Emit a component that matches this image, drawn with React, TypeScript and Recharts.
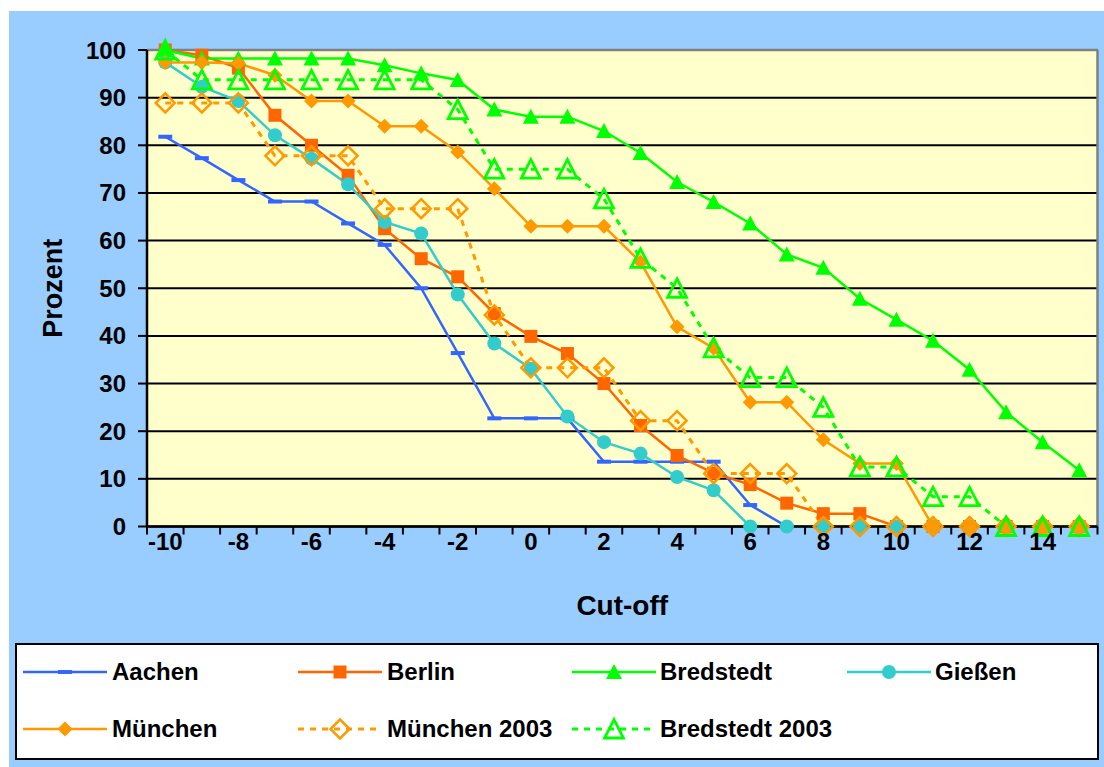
import React from 'react';
import { LineChart, Line, XAxis, YAxis, CartesianGrid, Legend, ReferenceLine } from 'recharts';

const cutoffs = [-10, -9, -8, -7, -6, -5, -4, -3, -2, -1, 0, 1, 2, 3, 4, 5, 6, 7, 8, 9, 10, 11, 12, 13, 14, 15];

const aachen = [81.8, 77.3, 72.7, 68.2, 68.2, 63.6, 59.1, 50, 36.4, 22.7, 22.7, 22.7, 13.6, 13.6, 13.6, 13.6, 4.5, 0, 0, 0, 0, 0, 0, 0, 0, 0];
const berlin = [100, 98.9, 96.2, 86.3, 80, 73.7, 62.5, 56.2, 52.4, 44.7, 39.9, 36.3, 30, 21.2, 14.9, 11.2, 8.8, 4.9, 2.7, 2.7, 0, 0, 0, 0, 0, 0];
const bredstedt = [100, 98.2, 98.2, 98.2, 98.2, 98.2, 96.8, 95.1, 93.7, 87.5, 86, 86, 83, 78.4, 72.3, 68.1, 63.6, 57.1, 54.3, 47.8, 43.4, 39, 32.9, 24, 17.7, 11.8];
const giessen = [97.4, 92.3, 89.3, 82.1, 77.2, 71.8, 63.9, 61.5, 48.7, 38.4, 33.1, 23.1, 17.7, 15.3, 10.4, 7.6, 0, 0, 0, 0, 0, 0, 0, 0, 0, 0];
const muenchen = [97.4, 97.4, 97.2, 94.7, 89.3, 89.3, 84, 84, 78.6, 70.9, 63, 63, 63, 55.5, 41.9, 37.4, 26.1, 26.1, 18.2, 13.2, 13.2, 0, 0, 0, 0, 0];
const muenchen2003 = [88.9, 88.9, 88.9, 77.8, 77.8, 77.8, 66.7, 66.7, 66.7, 44.4, 33.3, 33.3, 33.3, 22.2, 22.2, 11.1, 11.1, 11.1, 0, 0, 0, 0, 0, 0, 0, 0];
const bredstedt2003 = [100, 93.75, 93.75, 93.75, 93.75, 93.75, 93.75, 93.75, 87.5, 75, 75, 75, 68.75, 56.25, 50, 37.5, 31.25, 31.25, 25, 12.5, 12.5, 6.25, 6.25, 0, 0, 0];

const xLabelTicks = [-10, -8, -6, -4, -2, 0, 2, 4, 6, 8, 10, 12, 14];
const xBoundaryTicks = [-10.5, -9.5, -8.5, -7.5, -6.5, -5.5, -4.5, -3.5, -2.5, -1.5, -0.5, 0.5, 1.5, 2.5, 3.5, 4.5, 5.5, 6.5, 7.5, 8.5, 9.5, 10.5, 11.5, 12.5, 13.5, 14.5, 15.5];
const yTicks = [0, 10, 20, 30, 40, 50, 60, 70, 80, 90, 100];

const FONT = '"Liberation Sans", Arial, sans-serif';

const data = cutoffs.map((c, i) => ({
  cutoff: c,
  aachen: aachen[i],
  berlin: berlin[i],
  bredstedt: bredstedt[i],
  giessen: giessen[i],
  muenchen: muenchen[i],
  muenchen2003: muenchen2003[i],
  bredstedt2003: bredstedt2003[i],
}));

type Kind = 'dash' | 'square' | 'triangle' | 'circle' | 'diamond' | 'diamondOpen' | 'triangleOpen';

const series: { key: string; name: string; color: string; kind: Kind; dashed?: boolean }[] = [
  { key: 'aachen', name: 'Aachen', color: '#3366FF', kind: 'dash' },
  { key: 'berlin', name: 'Berlin', color: '#FF6600', kind: 'square' },
  { key: 'bredstedt', name: 'Bredstedt', color: '#00FF00', kind: 'triangle' },
  { key: 'giessen', name: 'Gießen', color: '#33CCCC', kind: 'circle' },
  { key: 'muenchen', name: 'München', color: '#FF9900', kind: 'diamond' },
  { key: 'muenchen2003', name: 'München 2003', color: '#FF9900', kind: 'diamondOpen', dashed: true },
  { key: 'bredstedt2003', name: 'Bredstedt 2003', color: '#00FF00', kind: 'triangleOpen', dashed: true },
];

function Marker({ kind, color, cx, cy }: { kind: Kind; color: string; cx: number; cy: number }) {
  switch (kind) {
    case 'dash':
      return <rect x={cx - 7} y={cy - 2} width={14} height={4} fill={color} />;
    case 'square':
      return <rect x={cx - 6.5} y={cy - 6.5} width={13} height={13} fill={color} />;
    case 'triangle':
      return <polygon points={`${cx - 8},${cy + 7} ${cx + 8},${cy + 7} ${cx},${cy - 8}`} fill={color} />;
    case 'circle':
      return <circle cx={cx} cy={cy} r={7} fill={color} />;
    case 'diamond':
      return <polygon points={`${cx},${cy - 7.5} ${cx + 7.5},${cy} ${cx},${cy + 7.5} ${cx - 7.5},${cy}`} fill={color} />;
    case 'diamondOpen':
      return (
        <polygon
          points={`${cx},${cy - 9.5} ${cx + 9.5},${cy} ${cx},${cy + 9.5} ${cx - 9.5},${cy}`}
          fill="none"
          stroke={color}
          strokeWidth={2.5}
        />
      );
    case 'triangleOpen':
      return (
        <polygon
          points={`${cx - 9.5},${cy + 9} ${cx + 9.5},${cy + 9} ${cx},${cy - 9.5}`}
          fill="none"
          stroke={color}
          strokeWidth={2.8}
        />
      );
  }
  return null;
}

function makeDot(kind: Kind, color: string) {
  return (p: any) => {
    if (p.cx == null || p.cy == null) return <g key={p.index} />;
    return (
      <g key={p.index}>
        <Marker kind={kind} color={color} cx={p.cx} cy={p.cy} />
      </g>
    );
  };
}

function YTitle({ viewBox }: any) {
  const cx = viewBox.x + 44;
  const cy = viewBox.y + viewBox.height / 2;
  return (
    <text
      x={cx}
      y={cy}
      transform={`rotate(-90 ${cx} ${cy})`}
      textAnchor="middle"
      dominantBaseline="central"
      fontFamily={FONT}
      fontWeight="bold"
      fontSize={27}
      fill="#000"
    >
      Prozent
    </text>
  );
}

function XTitle({ viewBox }: any) {
  const cx = viewBox.x + viewBox.width / 2;
  return (
    <text x={cx} y={viewBox.y + 87} textAnchor="middle" fontFamily={FONT} fontWeight="bold" fontSize={28} fill="#000">
      Cut-off
    </text>
  );
}

const legendCols = [8, 283, 557, 832];
const legendTextCols = [97, 372, 645, 920];
const legendRows = [29, 86];

function LegendBox() {
  return (
    <div
      style={{
        position: 'relative',
        width: 1084,
        height: 117,
        boxSizing: 'border-box',
        border: '2px solid #000',
        background: '#fff',
        fontFamily: FONT,
        fontWeight: 'bold',
        fontSize: 24,
      }}
    >
      {series.map((s, i) => {
        const col = i % 4;
        const row = Math.floor(i / 4);
        const top = legendRows[row] - 2;
        return (
          <React.Fragment key={s.key}>
            <svg
              width={86}
              height={26}
              style={{ position: 'absolute', left: legendCols[col] - 2, top: top - 13 }}
            >
              <line
                x1={0}
                x2={84}
                y1={13}
                y2={13}
                stroke={s.color}
                strokeWidth={s.dashed ? 3 : 2.5}
                strokeDasharray={s.dashed ? '6 6' : undefined}
              />
              <Marker kind={s.kind} color={s.color} cx={42} cy={13} />
            </svg>
            <div style={{ position: 'absolute', left: legendTextCols[col] - 2, top: top - 15, lineHeight: '30px', whiteSpace: 'nowrap' }}>
              {s.name}
            </div>
          </React.Fragment>
        );
      })}
    </div>
  );
}

export default function App() {
  return (
    <div style={{ position: 'absolute', left: 9, top: 11, width: 1095, height: 756, background: '#99CCFF' }}>
      <LineChart width={1095} height={756} data={data} margin={{ top: 39, right: 6.5, left: 0, bottom: 33.5 }}>
        <CartesianGrid xAxisId="cat" vertical={false} stroke="#000" strokeWidth={2} fill="#FFFFCC" fillOpacity={1} />
        <XAxis
          xAxisId="cat"
          type="number"
          dataKey="cutoff"
          domain={[-10.5, 15.5]}
          ticks={xBoundaryTicks}
          interval={0}
          height={1}
          tick={() => <g />}
          tickSize={8}
          tickLine={{ stroke: '#000', strokeWidth: 2 }}
          axisLine={{ stroke: '#000', strokeWidth: 2.5 }}
        />
        <XAxis
          xAxisId="lab"
          type="number"
          dataKey="cutoff"
          domain={[-10.5, 15.5]}
          ticks={xLabelTicks}
          interval={0}
          height={89}
          axisLine={false}
          tickLine={false}
          tickSize={0}
          tickMargin={5}
          tick={{ fill: '#000', fontFamily: FONT, fontWeight: 'bold', fontSize: 24 }}
          label={<XTitle />}
        />
        <YAxis
          type="number"
          domain={[0, 100]}
          ticks={yTicks}
          interval={0}
          width={138}
          tickSize={9}
          tickMargin={12}
          tickLine={{ stroke: '#000', strokeWidth: 2 }}
          axisLine={{ stroke: '#000', strokeWidth: 2.5 }}
          tick={{ fill: '#000', fontFamily: FONT, fontWeight: 'bold', fontSize: 24 }}
          label={<YTitle />}
        />
        <ReferenceLine xAxisId="cat" y={100} stroke="#808080" strokeWidth={2.5} />
        <ReferenceLine xAxisId="cat" x={15.5} stroke="#808080" strokeWidth={2.5} />
        {series.map((s) => (
          <Line
            key={s.key}
            xAxisId="cat"
            type="linear"
            dataKey={s.key}
            name={s.name}
            stroke={s.color}
            strokeWidth={s.dashed ? 3 : 2.5}
            strokeDasharray={s.dashed ? '6 6' : undefined}
            dot={makeDot(s.kind, s.color)}
            activeDot={false}
            isAnimationActive={false}
          />
        ))}
        <Legend
          verticalAlign="bottom"
          content={() => <LegendBox />}
          wrapperStyle={{ left: 6, top: 632, width: 1084, height: 117 }}
        />
      </LineChart>
    </div>
  );
}
